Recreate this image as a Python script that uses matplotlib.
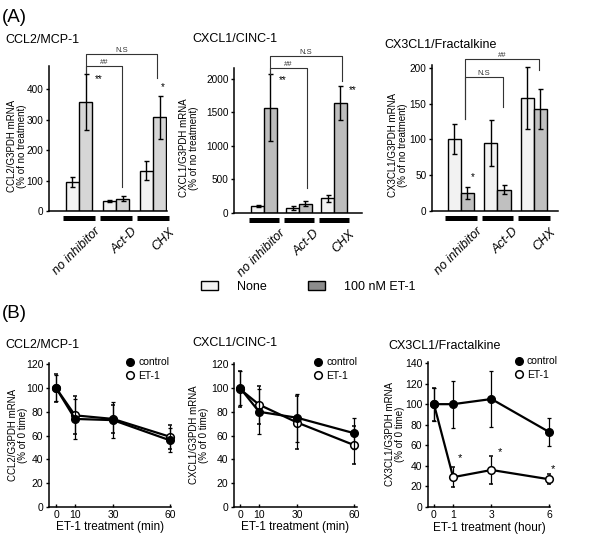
import numpy as np
import matplotlib
matplotlib.use('Agg')
import matplotlib.pyplot as plt
import matplotlib.transforms as mtransforms
from matplotlib.patches import Patch
from matplotlib.lines import Line2D

plt.rcParams['font.family'] = ['Liberation Sans', 'DejaVu Sans']
plt.rcParams['axes.linewidth'] = 1.1

# ----------------------------- Datos (A) -----------------------------
grupos = ['no inhibitor', 'Act-D', 'CHX']

ccl2_none = [96, 33, 132]
ccl2_none_err = [17, 4, 31]
ccl2_et1 = [358, 41, 308]
ccl2_et1_err = [93, 8, 70]

cxcl1_none = [100, 75, 220]
cxcl1_none_err = [15, 30, 50]
cxcl1_et1 = [1570, 140, 1640]
cxcl1_et1_err = [500, 35, 250]

cx3cl1_none = [101, 95, 158]
cx3cl1_none_err = [21, 32, 43]
cx3cl1_et1 = [25, 30, 143]
cx3cl1_et1_err = [8, 6, 28]

# ----------------------------- Datos (B) -----------------------------
t_min = [0, 10, 30, 60]
t_hora = [0, 1, 3, 6]

ccl2_ctrl = [100, 74, 73, 56]
ccl2_ctrl_err = [11, 17, 15, 10]
ccl2_et = [100, 77, 74, 59]
ccl2_et_err = [12, 16, 12, 10]

cxcl1_ctrl = [100, 80, 75, 62]
cxcl1_ctrl_err = [14, 19, 20, 13]
cxcl1_et = [99, 86, 71, 52]
cxcl1_et_err = [15, 16, 22, 16]

cx3cl1_ctrl = [100, 100, 105, 73]
cx3cl1_ctrl_err = [16, 23, 27, 14]
cx3cl1_et = [100, 29, 36, 27]
cx3cl1_et_err = [16, 10, 14, 5]

W, H = 600, 535
fig = plt.figure(figsize=(6, 5.35), dpi=100)


# Convertir pixeles a fraccion de figura
def caja(izq, der, abajo, arriba):
    return [izq / W, 1 - abajo / H, (der - izq) / W, (abajo - arriba) / H]


ancho = 0.36


# Funcion para dibujar cada panel de barras
def barras(pos, none, none_err, et1, et1_err, color_et, ylim, yticks, xlim,
           ylabel, label_x, estrellas, corchetes):
    ax = fig.add_axes(pos)
    x = np.arange(len(grupos))
    ekw = dict(elinewidth=1.0, capthick=1.0, ecolor='black')
    ax.bar(x - ancho / 2, none, ancho, yerr=none_err, color='#f2f2f2',
           edgecolor='black', linewidth=1.0, capsize=1.8, error_kw=ekw)
    ax.bar(x + ancho / 2, et1, ancho, yerr=et1_err, color=color_et,
           edgecolor='black', linewidth=1.0, capsize=1.8, error_kw=ekw)
    ax.set_xlim(*xlim)
    ax.set_ylim(*ylim)
    ax.set_yticks(yticks)
    ax.set_xticks([])
    ax.spines['top'].set_visible(False)
    ax.spines['right'].set_visible(False)
    ax.tick_params(axis='y', direction='out', length=2.5, width=1, pad=1.5,
                   labelsize=7.2)
    ax.set_ylabel(ylabel, fontsize=7, linespacing=1.0)
    ax.yaxis.set_label_coords(label_x, 0.45)
    trans = mtransforms.blended_transform_factory(ax.transData, ax.transAxes)
    for i, g in enumerate(grupos):
        ax.plot([i - 0.43, i + 0.43], [-0.05, -0.05], transform=trans,
                color='black', lw=3.6, solid_capstyle='butt', clip_on=False)
        ax.text(i + 0.42, -0.1, g, transform=trans, rotation=45,
                rotation_mode='anchor', ha='right', va='top',
                style='italic', fontsize=9)
    for (xs, ys, txt) in estrellas:
        ax.text(xs, ys, txt, ha='center', va='center', fontsize=7)
    for (x0, x1, y0, ytop, y1, txt) in corchetes:
        ax.plot([x0, x0, x1, x1], [y0, ytop, ytop, y1], color='#333333',
                lw=0.8, clip_on=False)
        ax.text((x0 + x1) / 2, ytop, txt, ha='center', va='bottom',
                fontsize=5.5, color='#333333')
    return ax


barras(caja(49, 167, 211, 66), ccl2_none, ccl2_none_err, ccl2_et1,
       ccl2_et1_err, '#d6d6d6', (0, 476), [0, 100, 200, 300, 400],
       (-0.81, 2.38), 'CCL2/G3PDH mRNA\n(% of no treatment)', -0.19,
       [(0.54, 434, '**'), (2.27, 407, '*')],
       [(0.19, 2.11, 454, 516, 437, 'N.S'), (0.19, 1.16, 454, 477, 78, '##')])

barras(caja(234, 362, 213, 68), cxcl1_none, cxcl1_none_err, cxcl1_et1,
       cxcl1_et1_err, '#bdbdbd', (0, 2160), [0, 500, 1000, 1500, 2000],
       (-0.86, 2.8), 'CXCL1/G3PDH mRNA\n(% of no treatment)', -0.27,
       [(0.54, 1985, '**'), (2.54, 1836, '**')],
       [(0.17, 2.23, 2075, 2343, 1970, 'N.S'), (0.17, 1.23, 2075, 2164, 373, '##')])

barras(caja(432, 558, 211, 65), cx3cl1_none, cx3cl1_none_err, cx3cl1_et1,
       cx3cl1_et1_err, '#c0c0c0', (0, 204), [0, 50, 100, 150, 200],
       (-0.79, 2.66), 'CX3CL1/G3PDH mRNA\n(% of no treatment)', -0.19,
       [(0.32, 47, '*')],
       [(0.1, 2.14, 129, 213, 197, '##'), (0.1, 1.16, 129, 187, 145, 'N.S')])

# Leyenda de barras
fig.legend(handles=[Patch(facecolor='#f2f2f2', edgecolor='black', lw=1.0),
                    Patch(facecolor='#8c8c8c', edgecolor='black', lw=1.0)],
           labels=['None', '100 nM ET-1'], ncol=2, frameon=False,
           loc='center', bbox_to_anchor=(308 / W, 1 - 287 / H), fontsize=9,
           handlelength=1.4, handleheight=0.75, handletextpad=1.5,
           columnspacing=3.3)


# Funcion para dibujar cada panel de lineas
def lineas(pos, t, ctrl, ctrl_err, et, et_err, xlim, ylim, yticks, xlabel,
           ylabel, label_x, leg_x, estrellas):
    ax = fig.add_axes(pos)
    c1 = ax.errorbar(t, et, yerr=et_err, color='black', lw=1.6, marker='o',
                     ms=5.5, mfc='white', mec='black', mew=1.1, elinewidth=0.9,
                     capsize=1.6, capthick=0.9, zorder=3)
    c2 = ax.errorbar(t, ctrl, yerr=ctrl_err, color='black', lw=1.6, marker='o',
                     ms=5.5, mfc='black', mec='black', elinewidth=0.9,
                     capsize=1.6, capthick=0.9, zorder=4)
    # No recortar los puntos del borde
    for c in (c1, c2):
        for art in c.get_children():
            art.set_clip_on(False)
    ax.set_xlim(*xlim)
    ax.set_ylim(*ylim)
    ax.set_xticks(t)
    ax.set_yticks(yticks)
    ax.spines['top'].set_visible(False)
    ax.spines['right'].set_visible(False)
    ax.tick_params(axis='y', direction='out', length=2.5, width=1, pad=1.5,
                   labelsize=7.5)
    ax.tick_params(axis='x', direction='in', length=2.5, width=1, pad=2.5,
                   labelsize=7.5)
    ax.set_xlabel(xlabel, fontsize=8.5)
    ax.xaxis.set_label_coords(0.5, -0.1)
    ax.set_ylabel(ylabel, fontsize=7, linespacing=1.0)
    ax.yaxis.set_label_coords(label_x, 0.5)
    for (xs, ys) in estrellas:
        ax.text(xs, ys, '*', ha='center', va='center', fontsize=8)
    h = [Line2D([], [], ls='none', marker='o', ms=5.5, mfc='black', mec='black'),
         Line2D([], [], ls='none', marker='o', ms=5.5, mfc='white', mec='black', mew=1.1)]
    ax.legend(h, ['control', 'ET-1'], loc='upper left',
              bbox_to_anchor=(leg_x, 1.04), frameon=False, fontsize=7.5,
              handlelength=1.0, handletextpad=0.3, labelspacing=0.35,
              borderpad=0, borderaxespad=0)
    return ax


lineas(caja(49, 171, 507, 363), t_min, ccl2_ctrl, ccl2_ctrl_err, ccl2_et,
       ccl2_et_err, (-3.7, 60.5), (0, 121), range(0, 121, 20),
       'ET-1 treatment (min)', 'CCL2/G3PDH mRNA\n(% of 0 time)', -0.17,
       0.62, [])

lineas(caja(234, 357, 507, 363), t_min, cxcl1_ctrl, cxcl1_ctrl_err,
       cxcl1_et, cxcl1_et_err, (-3.2, 61.5), (0, 121), range(0, 121, 20),
       'ET-1 treatment (min)', 'CXCL1/G3PDH mRNA\n(% of 0 time)', -0.2,
       0.64, [])

lineas(caja(428, 550, 507, 362), t_hora, cx3cl1_ctrl, cx3cl1_ctrl_err,
       cx3cl1_et, cx3cl1_et_err, (-0.31, 6.05), (0, 141), range(0, 141, 20),
       'ET-1 treatment (hour)', 'CX3CL1/G3PDH mRNA\n(% of 0 time)', -0.19,
       0.7, [(1.36, 48), (3.44, 53), (6.19, 37)])

# Titulos y letras de panel
fig.text(2 / W, 1 - 17 / H, '(A)', fontsize=13.5, va='center')
fig.text(2 / W, 1 - 313 / H, '(B)', fontsize=13.5, va='center')
titulos = [(5, 40, 'CCL2/MCP-1'), (192, 39, 'CXCL1/CINC-1'),
           (384, 45, 'CX3CL1/Fractalkine'), (5, 345, 'CCL2/MCP-1'),
           (192, 343, 'CXCL1/CINC-1'), (388, 346, 'CX3CL1/Fractalkine')]
for (px, py, txt) in titulos:
    fig.text(px / W, 1 - py / H, txt, fontsize=9, va='center')

fig.savefig('out.png', dpi=100)
